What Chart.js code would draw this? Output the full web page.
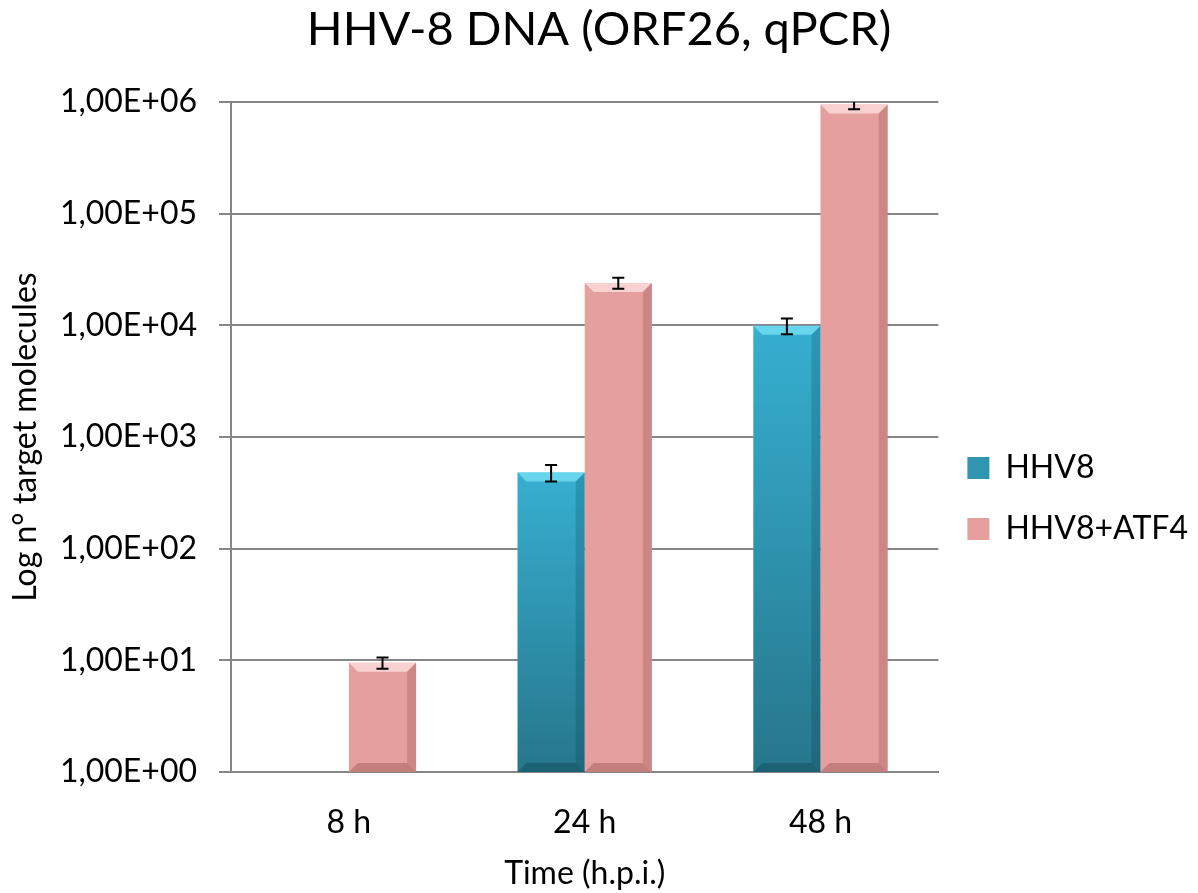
<!DOCTYPE html>
<html>
<head>
<meta charset="utf-8">
<script src="https://cdn.jsdelivr.net/npm/chart.js@4"></script>
<style>
html, body { margin: 0; padding: 0; background: #fff; }
#wrap { width: 1198px; height: 893px; }
</style>
</head>
<body>
<div id="wrap"><canvas id="myChart" width="1198" height="893"></canvas></div>
<script>
// values
const timeLabels = ['8 h', '24 h', '48 h'];
const hhv8Values = [null, 480, 9900];
const hhv8Errors = [0, 80, 1600];
const atf4Values = [9.5, 24000, 950000];
const atf4Errors = [1.1, 2700, 90000];
const yTicks = [1, 10, 100, 1000, 10000, 100000, 1000000];

const FONT = 'Lato';

function sciLabel(v) {
    const exp = Math.round(Math.log10(v));
    const mant = (v / Math.pow(10, exp)).toFixed(2).replace('.', ',');
    return mant + 'E' + (exp < 0 ? '-' : '+') + String(Math.abs(exp)).padStart(2, '0');
}

// vertical gradient on each bar, from its top down to the axis
function barFill(light, dark) {
    return function(ctx) {
        const chart = ctx.chart;
        if (!chart.chartArea || ctx.parsed == null || ctx.parsed.y == null) return light;
        const y = chart.scales.y;
        const top = y.getPixelForValue(ctx.parsed.y);
        const bottom = chart.chartArea.bottom;
        if (!isFinite(top) || bottom - top < 1) return light;
        const g = chart.ctx.createLinearGradient(0, top, 0, bottom);
        g.addColorStop(0, light);
        g.addColorStop(1, dark);
        return g;
    };
}

const bevelPlugin = {
    id: 'bevel',
    afterDatasetsDraw(chart) {
        const ctx = chart.ctx;
        const looks = [
            { hi: 'rgba(120,225,245,0.75)', side: 'rgba(0,40,60,0.18)', low: 'rgba(0,30,45,0.25)' },
            { hi: 'rgba(255,225,225,0.75)', side: 'rgba(90,30,30,0.18)', low: 'rgba(90,30,30,0.25)' }
        ];
        chart.data.datasets.forEach((ds, di) => {
            const meta = chart.getDatasetMeta(di);
            const look = looks[di];
            meta.data.forEach((bar, i) => {
                if (ds.data[i] == null) return;
                const p = bar.getProps(['x', 'y', 'base', 'width'], true);
                const l = p.x - p.width / 2, r = p.x + p.width / 2;
                const t = p.y, b = p.base;
                const s = Math.min(9, (b - t) / 2);
                ctx.save();
                ctx.fillStyle = look.hi;
                ctx.beginPath();
                ctx.moveTo(l, t); ctx.lineTo(r, t); ctx.lineTo(r - s, t + s); ctx.lineTo(l + s, t + s);
                ctx.closePath(); ctx.fill();
                ctx.fillStyle = look.side;
                ctx.beginPath();
                ctx.moveTo(r, t); ctx.lineTo(r, b); ctx.lineTo(r - s, b - s); ctx.lineTo(r - s, t + s);
                ctx.closePath(); ctx.fill();
                ctx.fillStyle = look.low;
                ctx.beginPath();
                ctx.moveTo(l, b); ctx.lineTo(r, b); ctx.lineTo(r - s, b - s); ctx.lineTo(l + s, b - s);
                ctx.closePath(); ctx.fill();
                ctx.restore();
            });
        });
    }
};

const errorBarPlugin = {
    id: 'errorBars',
    afterDatasetsDraw(chart) {
        const ctx = chart.ctx;
        const yScale = chart.scales.y;
        const area = chart.chartArea;
        const errs = [hhv8Errors, atf4Errors];
        ctx.save();
        ctx.beginPath();
        ctx.rect(area.left, area.top, area.right - area.left, area.bottom - area.top);
        ctx.clip();
        ctx.strokeStyle = '#000';
        ctx.lineWidth = 2;
        chart.data.datasets.forEach((ds, di) => {
            const meta = chart.getDatasetMeta(di);
            meta.data.forEach((bar, i) => {
                const v = ds.data[i];
                const e = errs[di][i];
                if (v == null || !e) return;
                const x = bar.x;
                const yHi = yScale.getPixelForValue(v + e);
                const yLo = yScale.getPixelForValue(v - e);
                ctx.beginPath();
                ctx.moveTo(x, yHi); ctx.lineTo(x, yLo);
                ctx.moveTo(x - 6, yHi); ctx.lineTo(x + 6, yHi);
                ctx.moveTo(x - 6, yLo); ctx.lineTo(x + 6, yLo);
                ctx.stroke();
            });
        });
        ctx.restore();
    }
};

new Chart('myChart', {
    type: 'bar',
    data: {
        labels: timeLabels,
        datasets: [{
            label: 'HHV8',
            data: hhv8Values,
            backgroundColor: barFill('#36afd1', '#26768b'),
            borderWidth: 0,
            categoryPercentage: 0.57,
            barPercentage: 1.0
        }, {
            label: 'HHV8+ATF4',
            data: atf4Values,
            backgroundColor: '#e49f9e',
            borderWidth: 0,
            categoryPercentage: 0.57,
            barPercentage: 1.0
        }]
    },
    options: {
        responsive: false,
        animation: false,
        layout: { padding: { left: 0, right: 0, top: 0, bottom: 0 } },
        plugins: {
            title: {
                display: true,
                text: 'HHV-8 DNA (ORF26, qPCR)',
                color: '#000',
                font: { family: FONT, size: 47, weight: 'normal' },
                padding: { top: 2, bottom: 43.6 }
            },
            legend: {
                position: 'right',
                title: { display: true, text: ' ', font: { size: 1 }, padding: { top: 52, bottom: 51 } },
                labels: {
                    color: '#000',
                    font: { family: FONT, size: 32 },
                    boxWidth: 22,
                    boxHeight: 22,
                    padding: 29,
                    generateLabels(chart) {
                        const solid = ['#2f95b1', '#e49f9e'];
                        return chart.data.datasets.map((ds, i) => ({
                            text: ds.label,
                            fillStyle: solid[i],
                            strokeStyle: solid[i],
                            lineWidth: 0,
                            fontColor: '#000',
                            datasetIndex: i
                        }));
                    }
                }
            },
            tooltip: { enabled: false }
        },
        scales: {
            x: {
                afterFit(scale) {
                    scale.height = 121;
                },
                grid: { display: false },
                border: { color: '#868686', width: 2 },
                ticks: { color: '#000', font: { family: FONT, size: 32 }, padding: 23 },
                title: {
                    display: true,
                    text: 'Time (h.p.i.)',
                    color: '#000',
                    font: { family: FONT, size: 32 },
                    padding: { top: 7, bottom: 0 }
                }
            },
            y: {
                type: 'logarithmic',
                min: 1,
                max: 1000000,
                afterBuildTicks(scale) {
                    scale.ticks = yTicks.map(v => ({ value: v }));
                },
                afterFit(scale) {
                    scale.width = 231;
                },
                grid: { color: '#868686', lineWidth: 2, tickLength: 12 },
                border: { color: '#868686', width: 2 },
                ticks: {
                    color: '#000',
                    font: { family: FONT, size: 32 },
                    padding: 22,
                    autoSkip: false,
                    callback: v => sciLabel(v)
                },
                title: {
                    display: true,
                    text: 'Log n° target molecules',
                    color: '#000',
                    font: { family: FONT, size: 32 },
                    padding: { top: 6, bottom: 0 }
                }
            }
        }
    },
    plugins: [bevelPlugin, errorBarPlugin]
});
</script>
</body>
</html>
